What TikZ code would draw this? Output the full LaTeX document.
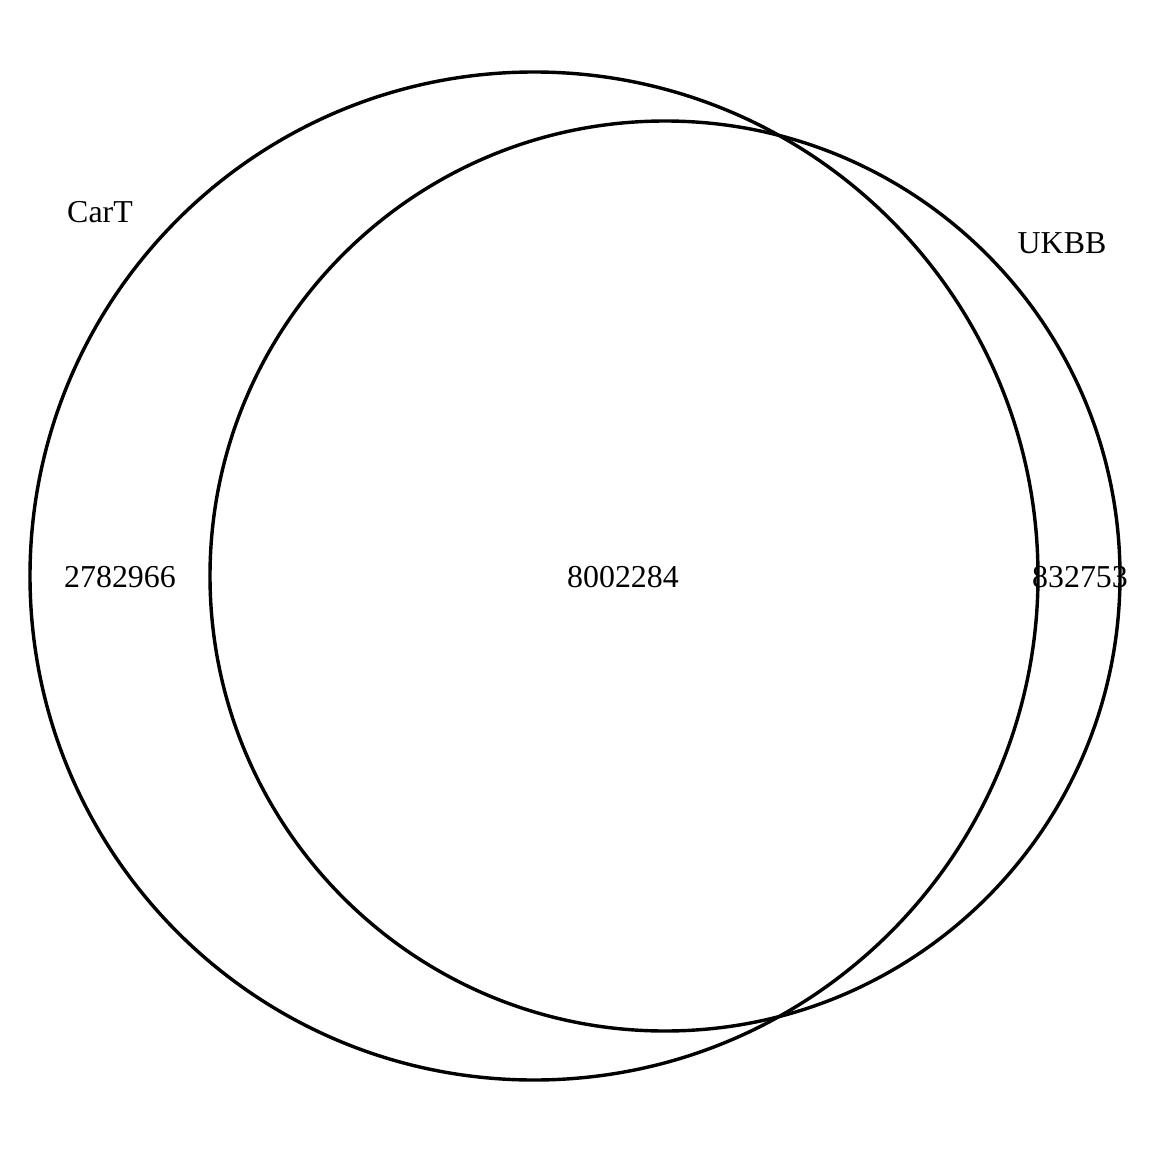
\documentclass[tikz,border=0pt]{standalone}
\usepackage{fontspec}
\setmainfont{Liberation Serif}

\begin{document}
\begin{tikzpicture}[x=0.013889cm, y=-0.013889cm, font=\fontsize{12.6}{15}\selectfont]
    \useasboundingbox (0,0) rectangle (1152,1152);
    \coordinate (cart) at (534,576);
    \coordinate (ukbb) at (665,576);
    \draw[line width=1.35pt] (cart) circle[radius=504];
    \draw[line width=1.35pt] (ukbb) circle[radius=455];
    \node (cartlabel) at (100,212) {CarT};
    \node (ukbblabel) at (1062,243) {UKBB};
    \node (onlycart) at (120,577) {2782966};
    \node (both) at (623,577) {8002284};
    \node (onlyukbb) at (1080,577) {832753};
    \end{tikzpicture}
\end{document}
